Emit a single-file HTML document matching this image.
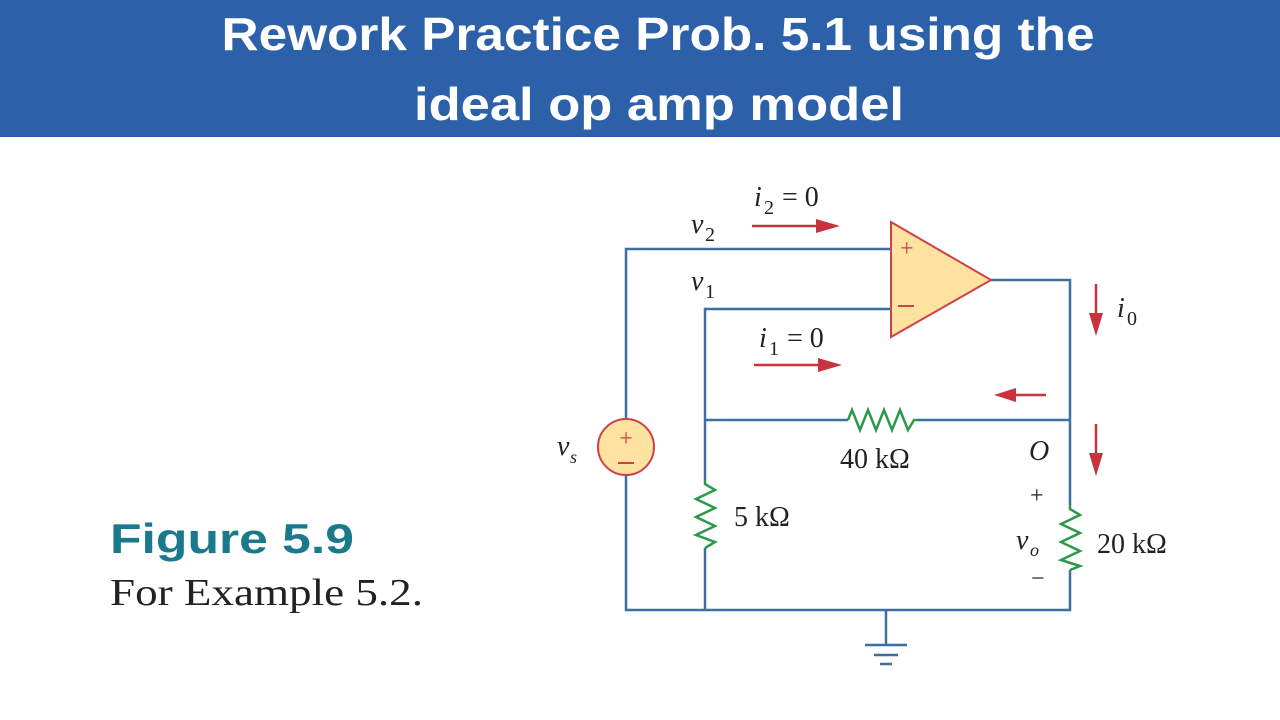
<!DOCTYPE html>
<html><head><meta charset="utf-8"><style>
html,body{margin:0;padding:0;background:#fff;}
svg{display:block}
</style></head><body>
<svg width="1280" height="720" viewBox="0 0 1280 720" xmlns="http://www.w3.org/2000/svg">
<rect x="0" y="0" width="1280" height="137" fill="#2c60a8"/>
<text x="658" y="50" text-anchor="middle" font-family="Liberation Sans, sans-serif" font-weight="bold" font-size="46" fill="#fff" textLength="873" lengthAdjust="spacingAndGlyphs">Rework Practice Prob. 5.1 using the</text>
<text x="659" y="120" text-anchor="middle" font-family="Liberation Sans, sans-serif" font-weight="bold" font-size="46" fill="#fff" textLength="490" lengthAdjust="spacingAndGlyphs">ideal op amp model</text>

<text x="110" y="553" font-family="Liberation Sans, sans-serif" font-weight="bold" font-size="42" fill="#1a7a8c" textLength="244" lengthAdjust="spacingAndGlyphs">Figure 5.9</text>
<text x="110" y="605" font-family="Liberation Serif, serif" font-size="38" fill="#222" textLength="313" lengthAdjust="spacingAndGlyphs">For Example 5.2.</text>

<g stroke="#3d6fa0" stroke-width="2.5" fill="none">
<polyline points="891,249 626,249 626,419"/>
<polyline points="626,475 626,610 1070,610 1070,570"/>
<polyline points="891,309 705,309 705,480"/>
<line x1="705" y1="548" x2="705" y2="610"/>
<polyline points="991,280 1070,280 1070,505"/>
<line x1="705" y1="420" x2="848" y2="420"/>
<line x1="918" y1="420" x2="1070" y2="420"/>
<line x1="886" y1="610" x2="886" y2="645"/>
<line x1="865" y1="645" x2="907" y2="645"/>
<line x1="874" y1="655" x2="898" y2="655"/>
<line x1="880" y1="664" x2="892" y2="664"/>
</g>
<polygon points="891,222 891,337 991,280" fill="#fde2a0" stroke="#d0404a" stroke-width="2"/>
<text x="900" y="256" font-family="Liberation Serif, serif" font-size="24" fill="#d0404a">+</text>
<line x1="898" y1="306" x2="914" y2="306" stroke="#d0404a" stroke-width="2"/>
<circle cx="626" cy="447" r="28" fill="#fde2a0" stroke="#d0404a" stroke-width="2"/>
<text x="626" y="446" text-anchor="middle" font-family="Liberation Serif, serif" font-size="24" fill="#d0404a">+</text>
<line x1="618" y1="463" x2="634" y2="463" stroke="#d0404a" stroke-width="2"/>

<g stroke="#2a9a4a" stroke-width="2.5" fill="none" stroke-linejoin="miter">
<polyline points="848,420 852,410 860,430 868,410 876,430 884,410 892,430 900,410 908,430 914,420 918,420"/>
<polyline points="705,480 705,484 715,490 696,499 715,508 696,517 715,526 696,535 715,542 705,548"/>
<polyline points="1070,505 1070,509 1080,515 1061,524 1080,533 1061,542 1080,551 1061,560 1080,566 1070,570"/>
</g>

<g stroke="#c8333d" stroke-width="2.5" fill="#c8333d">
<line x1="752" y1="226" x2="818" y2="226"/><polygon points="840,226 816,219 816,233" stroke="none"/>
<line x1="754" y1="365" x2="820" y2="365"/><polygon points="842,365 818,358 818,372" stroke="none"/>
<line x1="1046" y1="395" x2="1014" y2="395"/><polygon points="994,395 1016,388 1016,402" stroke="none"/>
<line x1="1096" y1="284" x2="1096" y2="315"/><polygon points="1096,336 1089,313 1103,313" stroke="none"/>
<line x1="1096" y1="424" x2="1096" y2="455"/><polygon points="1096,476 1089,453 1103,453" stroke="none"/>
</g>

<g font-family="Liberation Serif, serif" fill="#222" font-size="28">
<text x="754" y="206" font-style="italic">i</text><text x="764" y="214" font-size="20">2</text><text x="782" y="206">= 0</text>
<text x="759" y="347" font-style="italic">i</text><text x="769" y="355" font-size="20">1</text><text x="787" y="347">= 0</text>
<text x="691" y="233" font-style="italic">v</text><text x="705" y="241" font-size="20">2</text>
<text x="691" y="290" font-style="italic">v</text><text x="705" y="298" font-size="20">1</text>
<text x="1117" y="317" font-style="italic">i</text><text x="1127" y="325" font-size="20">0</text>
<text x="557" y="455" font-style="italic">v</text><text x="570" y="463" font-size="18" font-style="italic">s</text>
<text x="840" y="468">40 kΩ</text>
<text x="734" y="526">5 kΩ</text>
<text x="1097" y="553">20 kΩ</text>
<text x="1029" y="460" font-style="italic">O</text>
<text x="1030" y="503" font-size="24">+</text>
<text x="1031" y="586" font-size="24">−</text>
<text x="1016" y="549" font-style="italic">v</text><text x="1030" y="556" font-size="18" font-style="italic">o</text>
</g>
</svg>
</body></html>
